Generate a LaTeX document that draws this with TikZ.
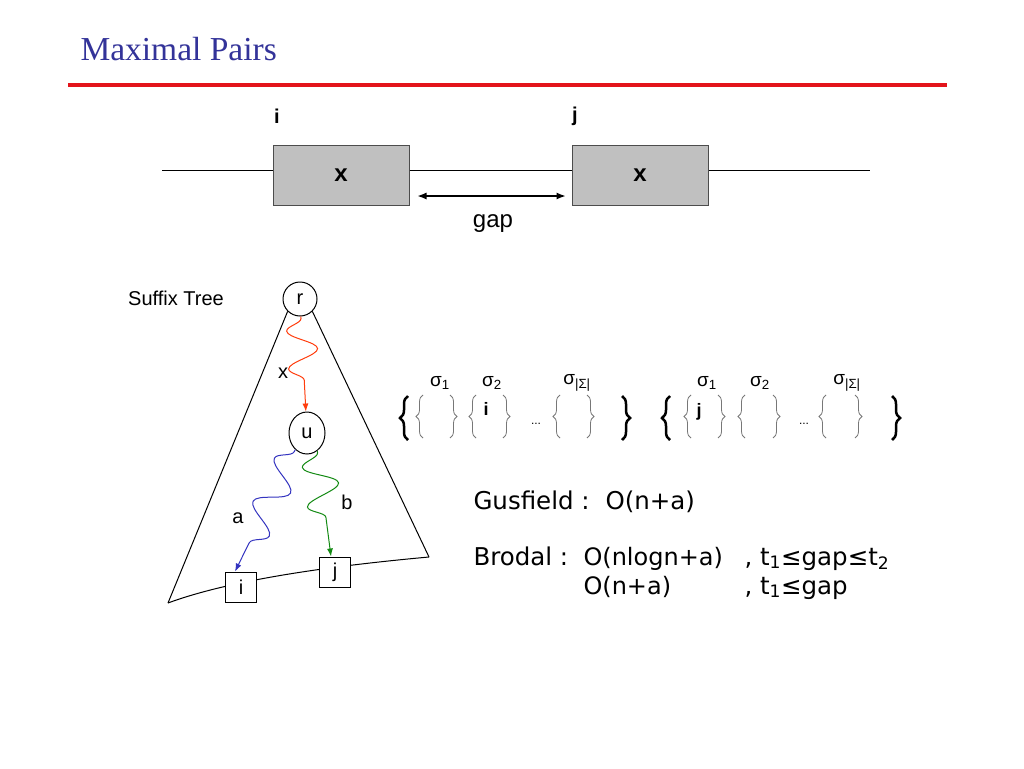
\documentclass[tikz,border=0pt]{standalone}
\usepackage{fontspec}
\setmainfont{Liberation Sans}
\newfontfamily\headfont{Liberation Serif}
\newfontfamily\costfont{DejaVu Sans}
\usepackage{tikz}
\usetikzlibrary{shapes.geometric, arrows.meta, positioning, decorations.pathmorphing, decorations.pathreplacing}
\definecolor{tblue}{HTML}{333399}
\definecolor{rulered}{HTML}{E3141B}
\definecolor{xgray}{HTML}{C0C0C0}
\definecolor{sred}{HTML}{FF3D0D}
\definecolor{sblue}{HTML}{3434C0}
\definecolor{sgreen}{HTML}{138A13}
\definecolor{bgray}{HTML}{777777}
\tikzstyle{heading} = [anchor=base west, inner sep=0, text=tblue, font=\headfont\fontsize{33.5}{36}\selectfont]
\tikzstyle{xbox} = [rectangle, minimum width=136pt, minimum height=60pt, draw=black!70, fill=xgray, font=\bfseries\fontsize{24}{28}\selectfont]
\tikzstyle{idx} = [font=\bfseries\fontsize{20}{24}\selectfont]
\tikzstyle{lbl} = [font=\fontsize{20}{24}\selectfont]
\tikzstyle{vertex} = [circle, draw, minimum size=34pt, inner sep=0, font=\fontsize{20}{24}\selectfont]
\tikzstyle{unode} = [ellipse, draw, minimum width=36pt, minimum height=42pt, inner sep=0, font=\fontsize{20}{24}\selectfont]
\tikzstyle{leaf} = [rectangle, draw, fill=white, minimum width=31pt, minimum height=30pt, inner sep=0, font=\fontsize{20}{24}\selectfont]
\tikzstyle{wavy} = [-{Latex[length=8pt, width=6pt]}, decorate, decoration={snake, mirror, amplitude=15pt, segment length=38pt, pre length=2pt, post length=16pt}]
\tikzstyle{gaparrow} = [{Latex[length=9pt, width=7pt]}-{Latex[length=9pt, width=7pt]}, line width=1.2pt]
\tikzstyle{bigbrace} = [decorate, decoration={brace, amplitude=8pt}, line width=2.5pt]
\tikzstyle{setbrace} = [decorate, decoration={brace, amplitude=7pt}, line width=0.8pt, draw=bgray]
\tikzstyle{sig} = [font=\fontsize{19}{22}\selectfont]
\tikzstyle{cost} = [anchor=base west, inner sep=0, font=\costfont\fontsize{24.5}{28}\selectfont]
\begin{document}
\begin{tikzpicture}[x=1pt, y=-1pt, line width=1pt]
  \useasboundingbox[fill=white] (0,0) rectangle (1024,768);
  \node (title) [heading] at (80,60) {Maximal Pairs};
  \draw [rulered, line width=4pt] (68,85) -- (947,85);
  \node (x1) [xbox] at (341,175) {x};
  \node (x2) [xbox] at (640,175) {x};
  \node (i) [idx] at (277,116) {i};
  \node (j) [idx] at (575,116) {j};
  \coordinate (lend) at (162,170);
  \coordinate (rend) at (870,170);
  \draw (lend) -- (lend -| x1.west);
  \draw (x1.east |- lend) -- (x2.west |- lend);
  \draw (x2.east |- lend) -- (rend);
  \draw [gaparrow] ([shift={(8,21)}]x1.east) -- ([shift={(-6,21)}]x2.west);
  \node (gap) [lbl, font=\fontsize{24}{28}\selectfont] at (493,224) {gap};
  \node (st) [lbl] at (176,298) {Suffix Tree};
  \node (r) [vertex] at (300,299) {r};
  \node (u) [unode] at (307,433) {u};
  \coordinate (tl) at (168,603);
  \coordinate (tr) at (429,557);
  \draw (r.225) -- (tl);
  \draw (r.315) -- (tr);
  \draw (tl) .. controls (230,580) and (330,566) .. (tr);
  \node (li) [leaf] at (241,587) {i};
  \node (lj) [leaf] at (335,572) {j};
  \draw [wavy, sred] (r) -- (u);
  \draw [wavy, sblue, decoration={segment length=48pt, amplitude=15pt}] (u.235) -- ([xshift=-6pt]li.north);
  \draw [wavy, sgreen, decoration={segment length=40pt, amplitude=17pt, post length=20pt}] (u.300) -- ([xshift=-4pt]lj.north);
  \node (lx) [lbl] at (283,373) {x};
  \node (la) [lbl] at (238,518) {a};
  \node (lb) [lbl] at (347,502) {b};
  \draw [bigbrace] (408,440) -- (408,396);
  \draw [bigbrace] (622,396) -- (622,440);
  \draw [bigbrace] (670,440) -- (670,396);
  \draw [bigbrace] (892,396) -- (892,440);
  \foreach \lx/\rx in {423/450, 476/503, 560/587, 691/718, 745/773, 826/855} {
    \draw [setbrace] (\lx,438) -- (\lx,395);
    \draw [setbrace] (\rx,395) -- (\rx,438);
  }
  \node (s11) [sig] at (440,383) {σ\textsubscript{1}};
  \node (s12) [sig] at (492,383) {σ\textsubscript{2}};
  \node (s1n) [sig] at (577,383) {σ\textsubscript{|Σ|}};
  \node (s21) [sig] at (707,383) {σ\textsubscript{1}};
  \node (s22) [sig] at (760,383) {σ\textsubscript{2}};
  \node (s2n) [sig] at (847,383) {σ\textsubscript{|Σ|}};
  \node (si) [idx, font=\bfseries\fontsize{18}{20}\selectfont] at (486,409) {i};
  \node (sj) [idx, font=\bfseries\fontsize{18}{20}\selectfont] at (699,412) {j};
  \node (dots1) [font=\fontsize{12}{14}\selectfont] at (536,424) {...};
  \node (dots2) [font=\fontsize{12}{14}\selectfont] at (804,424) {...};
  \node (gus) [cost] at (473,509) {Gusfield :};
  \node (gus1) [cost] at (605,509) {O(n+a)};
  \node (bro) [cost] at (473,565) {Brodal :};
  \node (bro1) [cost, font=\costfont\fontsize{24}{28}\selectfont] at (583,565) {O(nlogn+a)};
  \node (bro2) [cost] at (744,565) {, t\textsubscript{1}≤gap≤t\textsubscript{2}};
  \node (bro3) [cost, font=\costfont\fontsize{24}{28}\selectfont] at (583,594) {O(n+a)};
  \node (bro4) [cost] at (744,594) {, t\textsubscript{1}≤gap};
\end{tikzpicture}
\end{document}
